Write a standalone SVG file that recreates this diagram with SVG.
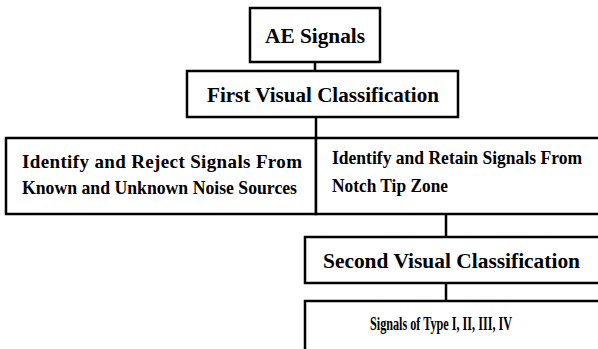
<svg xmlns="http://www.w3.org/2000/svg" width="598" height="349" viewBox="0 0 598 349">
<style>
.box{fill:#fff;stroke:#000;stroke-width:2.5}
.ln{stroke:#000;stroke-width:2.5;fill:none}
text{font-family:"Liberation Serif","Times New Roman",serif;font-weight:bold;fill:#000}
</style>
<rect width="598" height="349" fill="#fff"/>
<g id="connectors">
<line class="ln" x1="315" y1="62" x2="315" y2="71"/>
<line class="ln" x1="316" y1="117" x2="316" y2="138"/>
<line class="ln" x1="446" y1="214" x2="446" y2="237"/>
<line class="ln" x1="446" y1="283" x2="446" y2="301"/>
</g>
<g id="ae">
<rect class="box" x="250" y="8" width="130" height="54"/>
<text x="315" y="43" font-size="22" text-anchor="middle" textLength="100" lengthAdjust="spacingAndGlyphs">AE Signals</text>
</g>
<g id="first">
<rect class="box" x="187" y="71" width="271" height="46"/>
<text x="207" y="102" font-size="22" textLength="232" lengthAdjust="spacingAndGlyphs">First Visual Classification</text>
</g>
<g id="reject">
<rect class="box" x="6" y="138" width="310" height="76"/>
<text x="22" y="168" font-size="19" textLength="280" lengthAdjust="spacing">Identify and Reject Signals From</text>
<text x="22" y="194" font-size="19" textLength="275" lengthAdjust="spacingAndGlyphs">Known and Unknown Noise Sources</text>
</g>
<g id="retain">
<rect class="box" x="316" y="138" width="290" height="76"/>
<text x="332" y="164" font-size="19" textLength="250" lengthAdjust="spacingAndGlyphs">Identify and Retain Signals From</text>
<text x="332" y="192" font-size="19" textLength="116" lengthAdjust="spacingAndGlyphs">Notch Tip Zone</text>
</g>
<g id="second">
<rect class="box" x="305" y="237" width="300" height="46"/>
<text x="323" y="268" font-size="22" textLength="257" lengthAdjust="spacingAndGlyphs">Second Visual Classification</text>
</g>
<g id="types">
<rect class="box" x="305" y="301" width="300" height="60"/>
<text x="370" y="330" font-size="18" textLength="142" lengthAdjust="spacingAndGlyphs">Signals of Type I, II, III, IV</text>
</g>
</svg>
